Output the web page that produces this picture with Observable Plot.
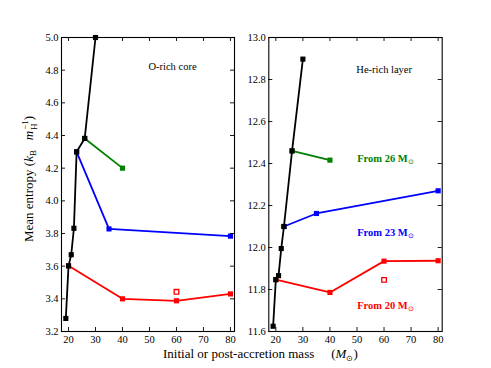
<!DOCTYPE html>
<html>
<head>
<meta charset="utf-8">
<script src="https://cdn.jsdelivr.net/npm/d3@7"></script>
<script src="https://cdn.jsdelivr.net/npm/@observablehq/plot@0.6"></script>
<style>
  body { margin: 0; background: #fff; }
  #wrap { position: relative; width: 491px; height: 368px; font-family: "Liberation Serif", serif; color: #000; overflow: hidden; }
  #wrap svg { position: absolute; top: 0; }
  #wrap svg text { font-family: "Liberation Serif", serif; }
  .lbl { position: absolute; white-space: nowrap; line-height: 1; }
</style>
</head>
<body>
<div id="wrap"></div>
<script>
// ---- data ----
const initialMass = [19, 20, 21, 22, 23, 26, 30];
const coreInitial = [3.28, 3.602, 3.67, 3.832, 4.30, 4.382, 5.0];
const heInitial   = [11.625, 11.847, 11.866, 11.995, 12.10, 12.46, 12.897];

const mass26 = [26, 40];
const core26 = [4.382, 4.20];
const he26   = [12.46, 12.416];

const mass23 = [23, 35, 80];
const core23 = [4.30, 3.828, 3.784];
const he23   = [12.10, 12.162, 12.27];

const mass20 = [20, 40, 60, 80];
const core20 = [3.602, 3.40, 3.388, 3.43];
const he20   = [11.847, 11.786, 11.935, 11.937];

const massOpen = [60];
const coreOpen = [3.443];
const heOpen   = [11.846];

const xTicks = [20, 30, 40, 50, 60, 70, 80];
const coreTicks = [3.2, 3.4, 3.6, 3.8, 4.0, 4.2, 4.4, 4.6, 4.8, 5.0];
const heTicks = [11.6, 11.8, 12.0, 12.2, 12.4, 12.6, 12.8, 13.0];

const seriesLabels = ["From 26 M⊙", "From 23 M⊙", "From 20 M⊙"];
const panelTitles = ["O-rich core", "He-rich layer"];

const zip = (xs, ys) => xs.map((x, i) => ({x, y: ys[i]}));
const colors = {black: "#000000", green: "#008000", blue: "#0000ff", red: "#ff0000"};
const FONT = "Liberation Serif, serif";

function panel({width, marginLeft, marginRight, yDomain, yTicks, series, open, annotations}) {
  const height = 345, marginTop = 37, marginBottom = 14;
  const fh = height - marginTop - marginBottom;
  const fw = width - marginLeft - marginRight;
  const marks = [];
  for (const s of series) {
    marks.push(Plot.line(s.data, {x: "x", y: "y", stroke: s.color, strokeWidth: 1.8}));
    marks.push(Plot.dot(s.data, {x: "x", y: "y", symbol: "square", r: 2.9, fill: s.color, stroke: "none"}));
  }
  marks.push(Plot.dot(open, {x: "x", y: "y", symbol: "square", r: 2.6, fill: "white", stroke: colors.red, strokeWidth: 1.3}));
  marks.push(Plot.frame({stroke: "black", strokeWidth: 1.1}));
  marks.push(Plot.tickX(xTicks, {x: d => d, insetTop: fh - 4, stroke: "black", strokeWidth: 0.9}));
  marks.push(Plot.tickX(xTicks, {x: d => d, insetBottom: fh - 4, stroke: "black", strokeWidth: 0.9}));
  marks.push(Plot.tickY(yTicks, {y: d => d, insetRight: fw - 4, stroke: "black", strokeWidth: 0.9}));
  marks.push(Plot.tickY(yTicks, {y: d => d, insetLeft: fw - 4, stroke: "black", strokeWidth: 0.9}));
  marks.push(Plot.axisX({ticks: xTicks, tickSize: 0, tickPadding: 4, label: null, tickFormat: d => String(d), fontFamily: FONT, fontSize: 10.5}));
  marks.push(Plot.axisY({ticks: yTicks, tickSize: 0, tickPadding: 3, label: null, tickFormat: d => d.toFixed(1), fontFamily: FONT, fontSize: 10.5}));
  for (const a of annotations) {
    marks.push(Plot.text([a.text], {text: d => d, frameAnchor: "top-left", dx: a.dx, dy: a.dy,
      textAnchor: a.anchor, lineAnchor: "middle", fill: a.color, fontWeight: a.bold ? "bold" : "normal", fontSize: 10.5, fontFamily: FONT}));
  }
  const svg = Plot.plot({
    width, height, marginLeft, marginRight, marginTop, marginBottom,
    style: {fontFamily: FONT, fontSize: "10.5px", color: "black", background: "transparent"},
    x: {domain: [17.4, 81.5]},
    y: {domain: yDomain},
    marks
  });
  d3.select(svg).selectAll("text").each(function () {
    const t = this.textContent;
    if (t.includes("⊙")) {
      this.textContent = t.replace("⊙", "");
      d3.select(this).append("tspan").attr("dy", "0.3em").attr("font-size", "7px").attr("font-weight", "normal").text("⊙");
    }
  });
  return svg;
}

const wrap = document.getElementById("wrap");

const left = panel({
  width: 245, marginLeft: 61, marginRight: 11,
  yDomain: [3.2, 5.0], yTicks: coreTicks,
  series: [
    {data: zip(mass26, core26), color: colors.green},
    {data: zip(mass23, core23), color: colors.blue},
    {data: zip(mass20, core20), color: colors.red},
    {data: zip(initialMass, coreInitial), color: colors.black}
  ],
  open: zip(massOpen, coreOpen),
  annotations: [{text: panelTitles[0], dx: 111, dy: 29, anchor: "middle", color: "black"}]
});
left.style.left = "0px";
wrap.appendChild(left);

const right = panel({
  width: 246, marginLeft: 23.3, marginRight: 49.3,
  yDomain: [11.6, 13.0], yTicks: heTicks,
  series: [
    {data: zip(mass26, he26), color: colors.green},
    {data: zip(mass23, he23), color: colors.blue},
    {data: zip(mass20, he20), color: colors.red},
    {data: zip(initialMass, heInitial), color: colors.black}
  ],
  open: zip(massOpen, heOpen),
  annotations: [
    {text: panelTitles[1], dx: 115.4, dy: 32.5, anchor: "middle", color: "black"},
    {text: seriesLabels[0], dx: 88.4, dy: 121, anchor: "start", color: colors.green, bold: true},
    {text: seriesLabels[1], dx: 88.4, dy: 194.7, anchor: "start", color: colors.blue, bold: true},
    {text: seriesLabels[2], dx: 88.4, dy: 268, anchor: "start", color: colors.red, bold: true}
  ]
});
right.style.left = "245px";
wrap.appendChild(right);

// axis titles
const ylab = document.createElement("div");
ylab.className = "lbl";
ylab.style.cssText += "left:30px;top:179px;font-size:13px;transform:translate(-50%,-50%) rotate(-90deg);";
ylab.innerHTML = 'Mean entropy (<i>k</i><span style="font-size:9px;vertical-align:-3px">B</span>&nbsp;&nbsp;&nbsp;<i>m</i>' +
  '<span style="display:inline-block;vertical-align:middle;font-size:9px;line-height:1;text-align:left;margin-left:1px">−1<br>H</span>)';
wrap.appendChild(ylab);

const xlab = document.createElement("div");
xlab.className = "lbl";
xlab.style.cssText += "left:163px;top:346.5px;font-size:13px;";
xlab.innerHTML = 'Initial or post-accretion mass<span style="display:inline-block;width:17px"></span>(<i>M</i><span style="font-size:8px;vertical-align:-3px">⊙</span>)';
wrap.appendChild(xlab);
</script>
</body>
</html>
